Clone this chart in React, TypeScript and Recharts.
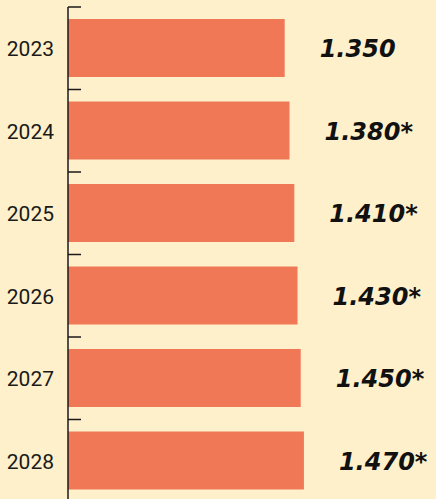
import { BarChart, Bar, XAxis, YAxis, LabelList } from 'recharts';

const years = ['2023', '2024', '2025', '2026', '2027', '2028'];
const values = [1350, 1380, 1410, 1430, 1450, 1470];
const forecast = [false, true, true, true, true, true];

const data = years.map((year, i) => ({ year, value: values[i], forecast: forecast[i] }));

const BAND = 82.5;

function YearTick(props: any) {
  const { y, payload } = props;
  return (
    <g>
      <line x1={68} x2={81} y1={y - BAND / 2} y2={y - BAND / 2} stroke="#1a1a1a" strokeWidth={1.5} />
      <text x={54} y={y} dy={8} textAnchor="end" fontFamily="Roboto" fontSize={21} fill="#1a1a1a">
        {payload.value}
      </text>
    </g>
  );
}

function ValueLabel(props: any) {
  const { x, y, width, height, index } = props;
  const v = values[index].toLocaleString('de-DE') + (forecast[index] ? '*' : '');
  return (
    <text
      x={x + width + 35}
      y={y + height / 2 + 9}
      fontFamily="DejaVu Sans"
      fontWeight="bold"
      fontStyle="italic"
      fontSize={24}
      fill="#111"
    >
      {v}
    </text>
  );
}

export default function App() {
  return (
    <div style={{ position: 'absolute', left: 0, top: 0, width: 436, height: 499, overflow: 'hidden', background: '#FEF0CB' }}>
      <BarChart
        layout="vertical"
        width={436}
        height={502}
        data={data}
        margin={{ top: 7, right: 47, bottom: 0, left: 0 }}
      >
        <XAxis type="number" domain={[0, 2000]} hide />
        <YAxis
          type="category"
          dataKey="year"
          width={68}
          axisLine={{ stroke: '#1a1a1a', strokeWidth: 1.5 }}
          tickLine={false}
          tick={<YearTick />}
        />
        <Bar dataKey="value" fill="#F07857" barSize={58} isAnimationActive={false}>
          <LabelList dataKey="value" content={<ValueLabel />} />
        </Bar>
      </BarChart>
    </div>
  );
}
